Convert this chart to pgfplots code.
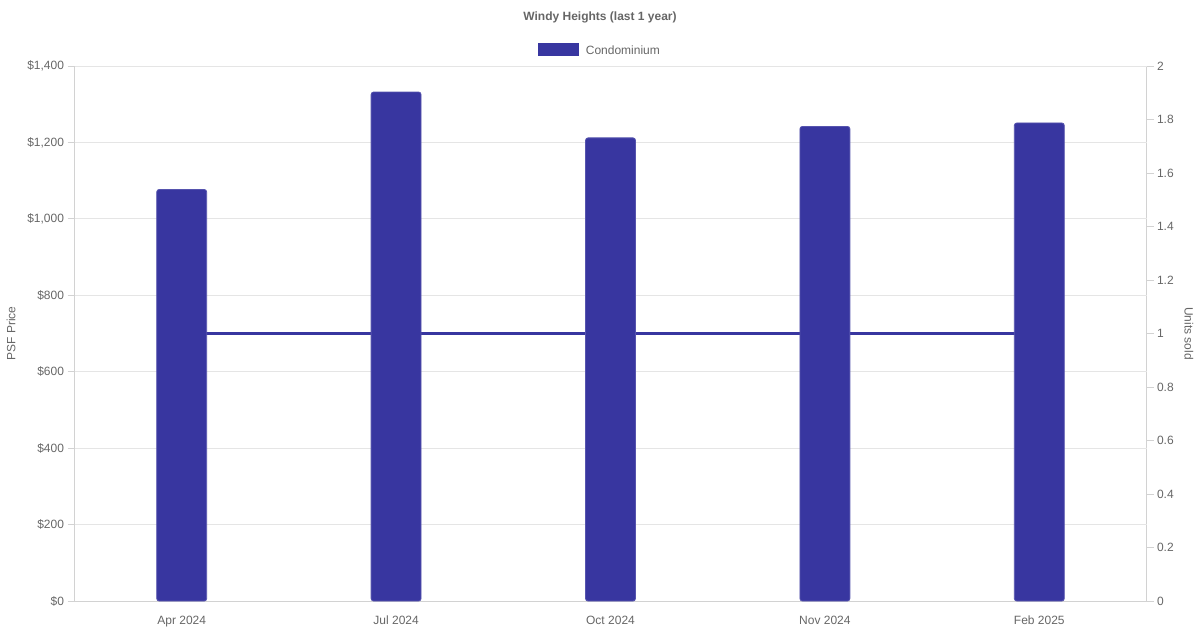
\documentclass[border=0pt]{standalone}
\usepackage{fontspec}
\setmainfont{Liberation Sans}
\usepackage{pgfplots}
\pgfplotsset{compat=1.18}
\definecolor{barblue}{RGB}{56,54,160}
\definecolor{txt}{RGB}{102,102,102}
\definecolor{gridc}{RGB}{229,229,229}
\definecolor{axc}{RGB}{210,210,210}
\newcommand{\tf}{\fontsize{12}{14}\selectfont}
\begin{document}
\begin{tikzpicture}
% right axis: units sold (line)
\begin{axis}[at={(0,0)}, anchor=origin, scale only axis,
  width=1072pt, height=535pt,
  xmin=-0.5, xmax=4.5, ymin=0, ymax=2,
  axis x line=none, axis y line*=right,
  axis line style={-, axc, line width=1pt},
  ytick={0,0.2,0.4,0.6,0.8,1,1.2,1.4,1.6,1.8,2},
  yticklabels={0,0.2,0.4,0.6,0.8,1,1.2,1.4,1.6,1.8,2},
  tick align=outside, major tick length=7pt,
  tick style={axc, line width=1pt},
  yticklabel style={font=\tf, text=txt, anchor=west},
  ylabel={Units sold},
  ylabel style={at={(axis description cs:1.0396,0.5)}, anchor=center, rotate=180, font=\tf, text=txt},
  clip=false]
\addplot[barblue, line width=3pt] coordinates {(0,1) (1,1) (2,1) (3,1) (4,1)};
\end{axis}
% left axis: PSF price (bars)
\begin{axis}[at={(0,0)}, anchor=origin, scale only axis,
  width=1072pt, height=535pt,
  xmin=-0.5, xmax=4.5, ymin=0, ymax=1400,
  axis x line*=bottom, axis y line*=left,
  axis line style={-, axc, line width=1pt},
  xtick={0,1,2,3,4},
  xticklabels={Apr 2024,Jul 2024,Oct 2024,Nov 2024,Feb 2025},
  x tick style={draw=none},
  ytick={0,200,400,600,800,1000,1200,1400},
  yticklabels={\$0,\$200,\$400,\$600,\$800,{\$1,000},{\$1,200},{\$1,400}},
  tick align=outside, major tick length=7pt,
  y tick style={axc, line width=1pt},
  ymajorgrids, grid style={gridc, line width=1pt},
  xticklabel style={font=\tf, text=txt, text height=9pt, text depth=3pt, yshift=-4pt},
  yticklabel style={font=\tf, text=txt},
  ylabel={PSF Price},
  ylabel style={at={(axis description cs:-0.0592,0.5)}, anchor=center, font=\tf, text=txt},
  title={\bfseries Windy Heights (last 1 year)},
  title style={at={(axis description cs:0.4902,1.0804)}, anchor=center, font=\tf, text=txt},
  legend style={draw=none, fill=none, at={(0.4902,1.0299)}, anchor=center, font=\tf, text=txt,
    nodes={yshift=-2pt}},
  legend image code/.code={\fill[barblue, sharp corners] (0pt,-6.5pt) rectangle (40pt,5.5pt); \path (45pt,0pt);},
  clip=false]
\addplot[ybar, bar width=0.233, fill=barblue, draw=barblue!85!white, line width=0.8pt,
  rounded corners=2.5pt]
  coordinates {(0,1077) (1,1332) (2,1212) (3,1242) (4,1251)};
\addlegendentry{Condominium}
\path (rel axis cs:-0.0695,-0.0542) rectangle (rel axis cs:1.0499,1.1234);
\end{axis}
\end{tikzpicture}
\end{document}
